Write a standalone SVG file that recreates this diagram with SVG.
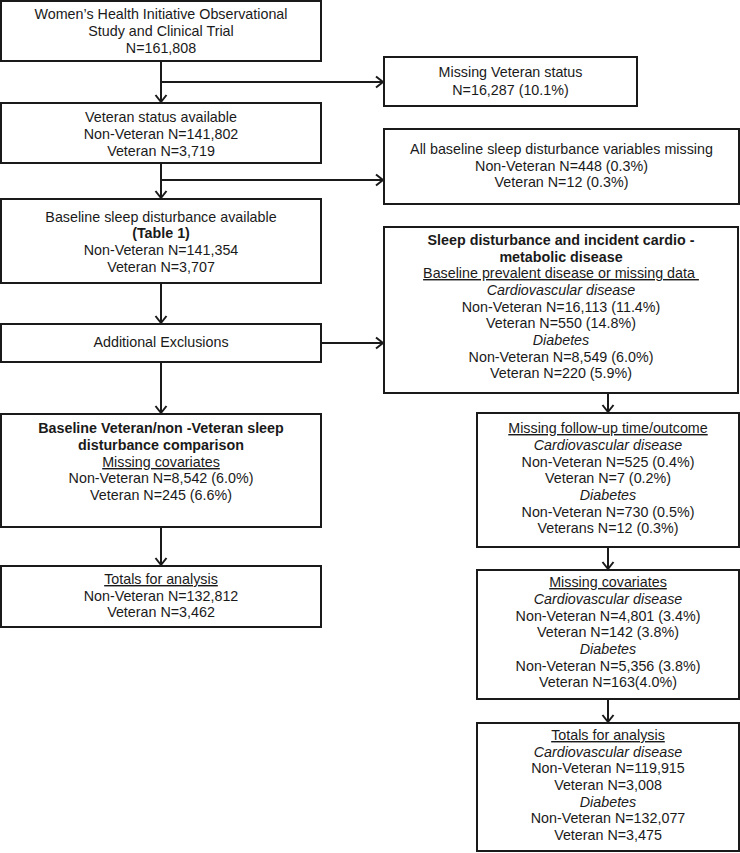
<svg xmlns="http://www.w3.org/2000/svg" width="740" height="853" viewBox="0 0 740 853">
<style>
.box{fill:#fff;stroke:#1a1a1a;stroke-width:2}
text{font-family:"Liberation Sans",Arial,sans-serif;font-size:14.3px;fill:#1a1a1a;text-anchor:middle}
.b{font-weight:bold}
.i{font-style:italic}
.u{text-decoration:underline}
.c{fill:none;stroke:#1a1a1a;stroke-width:2}
</style>
<defs>
<marker id="ah" markerUnits="userSpaceOnUse" markerWidth="12" markerHeight="14" refX="9" refY="7" orient="auto">
<path d="M2,1.5 L9,7 L2,12.5" fill="none" stroke="#1a1a1a" stroke-width="2"/>
</marker>
</defs>
<rect width="740" height="853" fill="#fff"/>
<g id="connectors">
<line class="c" x1="161" y1="61" x2="161" y2="102" marker-end="url(#ah)"/>
<line class="c" x1="161" y1="82" x2="383" y2="82" marker-end="url(#ah)"/>
<line class="c" x1="161" y1="163" x2="161" y2="198" marker-end="url(#ah)"/>
<line class="c" x1="161" y1="180" x2="383" y2="180" marker-end="url(#ah)"/>
<line class="c" x1="161" y1="283" x2="161" y2="323" marker-end="url(#ah)"/>
<line class="c" x1="321" y1="343" x2="383" y2="343" marker-end="url(#ah)"/>
<line class="c" x1="161" y1="362" x2="161" y2="413" marker-end="url(#ah)"/>
<line class="c" x1="161" y1="527" x2="161" y2="565" marker-end="url(#ah)"/>
<line class="c" x1="608" y1="393" x2="608" y2="412" marker-end="url(#ah)"/>
<line class="c" x1="608" y1="547" x2="608" y2="569" marker-end="url(#ah)"/>
<line class="c" x1="608" y1="699" x2="608" y2="722" marker-end="url(#ah)"/>
</g>
<g id="n1">
<rect class="box" x="1" y="1" width="320" height="60"/>
<text x="161" y="19">Women’s Health Initiative Observational</text>
<text x="161" y="36">Study and Clinical Trial</text>
<text x="161" y="53">N=161,808</text>
</g>
<g id="n2">
<rect class="box" x="1" y="103" width="320" height="60"/>
<text x="161" y="122">Veteran status available</text>
<text x="161" y="139">Non-Veteran N=141,802</text>
<text x="161" y="156">Veteran N=3,719</text>
</g>
<g id="n3">
<rect class="box" x="1" y="199" width="320" height="84"/>
<text x="161" y="222">Baseline sleep disturbance available</text>
<text x="161" y="238" class="b">(Table 1)</text>
<text x="161" y="255">Non-Veteran N=141,354</text>
<text x="161" y="272">Veteran N=3,707</text>
</g>
<g id="n4">
<rect class="box" x="1" y="324" width="320" height="38"/>
<text x="161" y="347">Additional Exclusions</text>
</g>
<g id="n5">
<rect class="box" x="1" y="414" width="320" height="113"/>
<text x="161" y="433" class="b">Baseline Veteran/non -Veteran sleep</text>
<text x="161" y="450" class="b">disturbance comparison</text>
<text x="161" y="467" class="u">Missing covariates</text>
<text x="161" y="483">Non-Veteran N=8,542 (6.0%)</text>
<text x="161" y="500">Veteran N=245 (6.6%)</text>
</g>
<g id="n6">
<rect class="box" x="1" y="566" width="320" height="61"/>
<text x="161" y="584" class="u">Totals for analysis</text>
<text x="161" y="601">Non-Veteran N=132,812</text>
<text x="161" y="617">Veteran N=3,462</text>
</g>
<g id="r1">
<rect class="box" x="384" y="57" width="253" height="49"/>
<text x="510.5" y="77">Missing Veteran status</text>
<text x="510.5" y="95">N=16,287 (10.1%)</text>
</g>
<g id="r2">
<rect class="box" x="384" y="129" width="355" height="75"/>
<text x="561.5" y="154">All baseline sleep disturbance variables missing</text>
<text x="561.5" y="171">Non-Veteran N=448 (0.3%)</text>
<text x="561.5" y="187">Veteran N=12 (0.3%)</text>
</g>
<g id="r3">
<rect class="box" x="384" y="227" width="354" height="166"/>
<text x="561" y="245" class="b">Sleep disturbance and incident cardio -</text>
<text x="561" y="262" class="b">metabolic disease</text>
<text x="561" y="278" class="u">Baseline prevalent disease or missing data&#160;</text>
<text x="561" y="295" class="i">Cardiovascular disease</text>
<text x="561" y="312">Non-Veteran N=16,113 (11.4%)</text>
<text x="561" y="328">Veteran N=550 (14.8%)</text>
<text x="561" y="345" class="i">Diabetes</text>
<text x="561" y="362">Non-Veteran N=8,549 (6.0%)</text>
<text x="561" y="378">Veteran N=220 (5.9%)</text>
</g>
<g id="r4">
<rect class="box" x="477" y="413" width="262" height="134"/>
<text x="608" y="433" class="u">Missing follow-up time/outcome</text>
<text x="608" y="450" class="i">Cardiovascular disease</text>
<text x="608" y="467">Non-Veteran N=525 (0.4%)</text>
<text x="608" y="483">Veteran N=7 (0.2%)</text>
<text x="608" y="500" class="i">Diabetes</text>
<text x="608" y="517">Non-Veteran N=730 (0.5%)</text>
<text x="608" y="533">Veterans N=12 (0.3%)</text>
</g>
<g id="r5">
<rect class="box" x="477" y="570" width="262" height="129"/>
<text x="608" y="587" class="u">Missing covariates</text>
<text x="608" y="604" class="i">Cardiovascular disease</text>
<text x="608" y="621">Non-Veteran N=4,801 (3.4%)</text>
<text x="608" y="637">Veteran N=142 (3.8%)</text>
<text x="608" y="654" class="i">Diabetes</text>
<text x="608" y="671">Non-Veteran N=5,356 (3.8%)</text>
<text x="608" y="687">Veteran N=163(4.0%)</text>
</g>
<g id="r6">
<rect class="box" x="477" y="723" width="262" height="128"/>
<text x="608" y="740" class="u">Totals for analysis</text>
<text x="608" y="757" class="i">Cardiovascular disease</text>
<text x="608" y="773">Non-Veteran N=119,915</text>
<text x="608" y="790">Veteran N=3,008</text>
<text x="608" y="807" class="i">Diabetes</text>
<text x="608" y="823">Non-Veteran N=132,077</text>
<text x="608" y="840">Veteran N=3,475</text>
</g>
</svg>
